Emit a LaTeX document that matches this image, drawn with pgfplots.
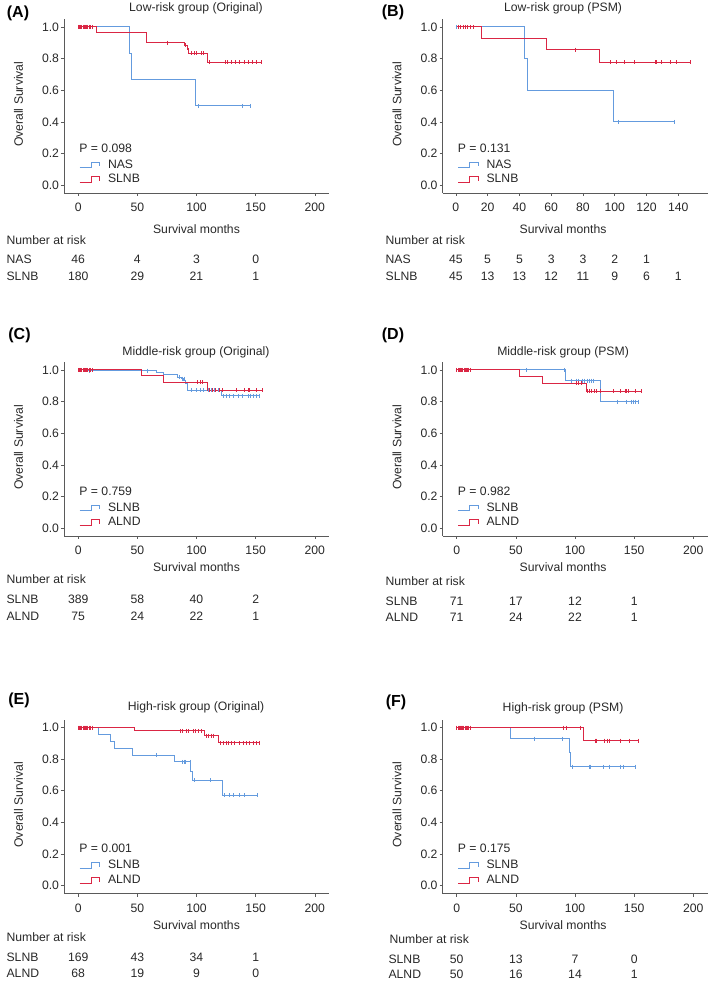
\documentclass[border=0pt]{standalone}
\usepackage{fontspec}
\setmainfont{Liberation Sans}
\usepackage{pgfplots}
\pgfplotsset{compat=1.18}

\definecolor{kmblue}{RGB}{100,155,222}
\definecolor{kmred}{RGB}{218,38,68}
\definecolor{txt}{RGB}{40,40,40}
\definecolor{axgray}{RGB}{90,90,90}

\newcommand{\fs}{\fontsize{12.2}{14}\selectfont}
% row label / risk number helpers (offsets in pt below the axis bottom)
\newcommand{\rl}[3]{\node[anchor=west,font=\fs,text=txt] at ([yshift=-#2pt]axis description cs:#1,0) {#3};}
\newcommand{\rn}[3]{\node[font=\fs,text=txt] at ([yshift=-#2pt]axis cs:#1,-0.05) {#3};}
\newcommand{\ptitle}[3]{\node[font=\fs,text=txt] at ([yshift=#2pt]axis description cs:#1,1) {#3};}
\newcommand{\plabel}[3]{\node[font=\fontsize{16}{18}\selectfont\bfseries] at (#1pt,#2pt) {#3};}
\newcommand{\ylab}{\node[rotate=90,font=\fs,text=txt] at (axis description cs:-0.172,0.51) {Overall Survival};}
\newcommand{\xlab}[2]{\node[font=\fs,text=txt] at ([yshift=-#2pt]axis description cs:#1,0) {Survival months};}
\newcommand{\pval}[1]{\node[anchor=west,font=\fs,text=txt] at (axis description cs:0.045,0.259) {P = #1};}
\newcommand{\keys}[2]{\addlegendimage{draw=kmblue, color=kmblue, line width=1pt}\addlegendentry{#1}
  \addlegendimage{draw=kmred, color=kmred, line width=1pt}\addlegendentry{#2}}

\pgfplotsset{
  km/.style={
    scale only axis, width=265pt, height=174pt, anchor=south west,
    ymin=-0.05, ymax=1.05,
    axis x line*=bottom, axis y line*=left,
    axis line style={axgray, line width=0.6pt, -},
    tick align=outside, major tick length=3pt,
    tick style={axgray, line width=0.6pt},
    ytick={0,0.2,0.4,0.6,0.8,1},
    yticklabel style={/pgf/number format/fixed, /pgf/number format/fixed zerofill, /pgf/number format/precision=1, xshift=1.5pt},
    xticklabel style={yshift=-3.5pt},
    /pgf/number format/assume math mode=true,
    tick label style={font=\fs, text=txt},
    clip=false,
    legend style={at={(0.056,0.125)}, anchor=west, draw=none, fill=none,
      inner sep=0pt, row sep=5.5pt, font=\fs,
      nodes={inner sep=0pt, text height=8.6pt, text depth=0pt, text=txt},
      /tikz/every odd column/.append style={column sep=8pt}},
    legend cell align=left,
    legend image code/.code={\draw[#1] (0pt,-4.2pt) -- (11.5pt,-4.2pt) -- (11.5pt,1.6pt) -- (20pt,1.6pt) -- (20pt,-2.7pt);},
  },
  kmx/.style={xmin=-12, xmax=212, xtick={0,50,100,150,200}},
  curve/.style={const plot, no marks, line width=1pt, #1, forget plot},
  cens/.style={only marks, mark=|, mark size=2pt, mark options={line width=0.6pt}, #1, forget plot},
}

\begin{document}
\begin{tikzpicture}
\useasboundingbox (0,0) rectangle (709pt,982pt);
% panel letters
\plabel{18}{969}{(A)}
\plabel{393}{970}{(B)}
\plabel{19.5}{647}{(C)}
\plabel{393}{647}{(D)}
\plabel{19}{282}{(E)}
\plabel{396}{280}{(F)}

% ---------------- (A)
\begin{axis}[km, kmx, at={(64pt,789pt)}]
\keys{NAS}{SLNB}
\addplot[curve=kmblue] coordinates {(0,1) (43.3,0.833) (44.7,0.667) (99.2,0.5) (145.8,0.5)};
\addplot[curve=kmred] coordinates {(0,1) (15.7,0.967) (57.6,0.901) (90.2,0.885) (92,0.865) (93.5,0.833) (109.3,0.778) (154.8,0.778)};
\addplot[cens=kmblue] coordinates {(1,1) (4,1) (7,1) (101.7,0.5) (138.8,0.5) (145.8,0.5)};
\addplot[cens=kmred] coordinates {(0,1) (1,1) (2,1) (3,1) (4,1) (5,1) (6,1) (7,1) (8,1) (9,1) (10,1) (11.5,1)
  (75.3,0.901) (90.7,0.885) (92.4,0.865) (95.8,0.833) (98,0.833) (100,0.833) (104.2,0.833) (105.6,0.833)
  (110.4,0.778) (124.7,0.778) (126.1,0.778) (129.5,0.778) (133.1,0.778) (136.5,0.778) (140.7,0.778)
  (144.1,0.778) (147.2,0.778) (150.6,0.778) (154.8,0.778)};
\ptitle{0.498}{11}{Low-risk group (Original)}
\ylab \xlab{0.5}{36} \pval{0.098}
\rl{-0.230}{47}{Number at risk}
\rl{-0.230}{66}{NAS} \rn{0}{66}{46} \rn{50}{66}{4} \rn{100}{66}{3} \rn{150}{66}{0}
\rl{-0.230}{83}{SLNB} \rn{0}{83}{180} \rn{50}{83}{29} \rn{100}{83}{21} \rn{150}{83}{1}
\end{axis}

% ---------------- (B)
\begin{axis}[km, at={(442.5pt,789pt)}, xmin=-8.4, xmax=158.4, xtick={0,20,40,60,80,100,120,140}]
\keys{NAS}{SLNB}
\addplot[curve=kmblue] coordinates {(0,1) (43.2,0.8) (44.9,0.6) (99,0.4) (137.7,0.4)};
\addplot[curve=kmred] coordinates {(0,1) (15.9,0.929) (57.2,0.857) (90.4,0.778) (147.8,0.778)};
\addplot[cens=kmblue] coordinates {(0,1) (102.3,0.4) (137.7,0.4)};
\addplot[cens=kmred] coordinates {(1.7,1) (3,1) (4.5,1) (6,1) (7.5,1) (9,1) (10.7,1) (75,0.857)
  (97,0.778) (101.3,0.778) (105.9,0.778) (112.4,0.778) (125.4,0.778) (126,0.778) (129.1,0.778)
  (134.8,0.778) (138.6,0.778) (147.8,0.778)};
\ptitle{0.455}{11}{Low-risk group (PSM)}
\ylab \xlab{0.455}{36} \pval{0.131}
\rl{-0.228}{47}{Number at risk}
\rl{-0.228}{66}{NAS} \rn{0}{66}{45} \rn{20}{66}{5} \rn{40}{66}{5} \rn{60}{66}{3} \rn{80}{66}{3} \rn{100}{66}{2} \rn{120}{66}{1}
\rl{-0.228}{83}{SLNB} \rn{0}{83}{45} \rn{20}{83}{13} \rn{40}{83}{13} \rn{60}{83}{12} \rn{80}{83}{11} \rn{100}{83}{9} \rn{120}{83}{6} \rn{140}{83}{1}
\end{axis}

% ---------------- (C)
\begin{axis}[km, kmx, at={(64pt,446pt)}]
\keys{SLNB}{ALND}
\addplot[curve=kmblue] coordinates {(0,1) (8.7,0.995) (66.3,0.985) (71.9,0.968) (84,0.953) (87.4,0.945) (89.3,0.932) (91,0.911) (92.4,0.872) (121,0.836) (153.4,0.836)};
\addplot[curve=kmred] coordinates {(0,1) (53.1,0.962) (72.5,0.921) (109.3,0.870) (156,0.870)};
\addplot[cens=kmblue] coordinates {(9.5,0.995) (58.4,0.995) (85.1,0.953) (87.9,0.945) (89.3,0.945)
  (95.8,0.872) (100,0.872) (102.8,0.872) (105.6,0.872) (109.8,0.872) (112.6,0.872) (115.4,0.872) (118.3,0.872)
  (122.5,0.836) (125.3,0.836) (128.1,0.836) (130.9,0.836) (135.1,0.836) (138.8,0.836) (143.5,0.836)
  (145.5,0.836) (147.8,0.836) (150.6,0.836) (153.4,0.836)};
\addplot[cens=kmred] coordinates {(0,1) (1,1) (2,1) (3,1) (4,1) (5,1) (6,1) (7,1) (8,1) (9,1) (10,1) (11.5,1)
  (100.6,0.921) (102.8,0.921) (105,0.921)
  (110.4,0.870) (113,0.870) (116,0.870) (119,0.870) (122,0.870) (133.7,0.870) (140.7,0.870)
  (143.5,0.870) (145,0.870) (150.6,0.870) (156,0.870)};
\ptitle{0.498}{10}{Middle-risk group (Original)}
\ylab \xlab{0.5}{31} \pval{0.759}
\rl{-0.230}{43}{Number at risk}
\rl{-0.230}{63}{SLNB} \rn{0}{63}{389} \rn{50}{63}{58} \rn{100}{63}{40} \rn{150}{63}{2}
\rl{-0.230}{80}{ALND} \rn{0}{80}{75} \rn{50}{80}{24} \rn{100}{80}{22} \rn{150}{80}{1}
\end{axis}

% ---------------- (D)
\begin{axis}[km, kmx, at={(442.5pt,446pt)}]
\keys{SLNB}{ALND}
\addplot[curve=kmblue] coordinates {(0,1) (91.7,0.932) (121.8,0.80) (153.6,0.80)};
\addplot[curve=kmred] coordinates {(0,1) (53.2,0.958) (72.6,0.917) (109.4,0.866) (156.4,0.866)};
\addplot[cens=kmblue] coordinates {(58.5,1) (90.9,1) (96.8,0.932) (100.7,0.932) (103,0.932) (105.8,0.932)
  (107.7,0.932) (110,0.932) (112,0.932) (114,0.932) (115.6,0.932)
  (136.1,0.80) (143.7,0.80) (147.4,0.80) (149.4,0.80) (150.8,0.80) (153.6,0.80)};
\addplot[cens=kmred] coordinates {(0,1) (1,1) (2,1) (3,1) (4,1) (5,1) (6,1) (7,1) (8,1) (9,1) (10,1) (11.5,1)
  (100.7,0.917) (103,0.917) (105.2,0.917)
  (110,0.866) (112,0.866) (114,0.866) (116,0.866) (118,0.866) (121.8,0.866) (132.5,0.866) (138.1,0.866)
  (142.3,0.866) (143.7,0.866) (145.1,0.866) (150.8,0.866) (156.4,0.866)};
\ptitle{0.455}{10}{Middle-risk group (PSM)}
\ylab \xlab{0.455}{31} \pval{0.982}
\rl{-0.228}{45}{Number at risk}
\rl{-0.228}{65}{SLNB} \rn{0}{65}{71} \rn{50}{65}{17} \rn{100}{65}{12} \rn{150}{65}{1}
\rl{-0.228}{81}{ALND} \rn{0}{81}{71} \rn{50}{81}{24} \rn{100}{81}{22} \rn{150}{81}{1}
\end{axis}

% ---------------- (E)
\begin{axis}[km, kmx, at={(64pt,88.4pt)}]
\keys{SLNB}{ALND}
\addplot[curve=kmblue] coordinates {(0,1) (17.4,0.957) (27.5,0.913) (30.6,0.870) (45.8,0.826) (81.7,0.782) (95.2,0.725) (96.6,0.665) (121.6,0.572) (151,0.572)};
\addplot[curve=kmred] coordinates {(0,1) (47.2,0.978) (106.5,0.949) (118.3,0.903) (153,0.903)};
\addplot[cens=kmblue] coordinates {(65.7,0.826) (88.2,0.782) (89.3,0.782) (90.2,0.782) (94.4,0.782)
  (98,0.665) (112,0.665) (123.9,0.572) (127.5,0.572) (130.9,0.572) (136.5,0.572) (140.7,0.572) (151,0.572)};
\addplot[cens=kmred] coordinates {(0,1) (1,1) (2,1) (3,1) (4,1) (5,1) (6,1) (7,1) (8,1) (9,1) (10,1) (11.5,1)
  (86.5,0.978) (88.2,0.978) (91,0.978) (93,0.978) (97.2,0.978) (98.6,0.978) (101.4,0.978) (104.2,0.978)
  (108.4,0.949) (109.8,0.949) (112.6,0.949) (114.6,0.949)
  (119.7,0.903) (122.5,0.903) (125.3,0.903) (126.7,0.903) (129.5,0.903) (132.3,0.903) (136.5,0.903)
  (139.3,0.903) (142.1,0.903) (144.9,0.903) (147.8,0.903) (150.6,0.903) (153.4,0.903)};
\ptitle{0.498}{12.6}{High-risk group (Original)}
\ylab \xlab{0.5}{32} \pval{0.001}
\rl{-0.230}{43.5}{Number at risk}
\rl{-0.230}{63.5}{SLNB} \rn{0}{63.5}{169} \rn{50}{63.5}{43} \rn{100}{63.5}{34} \rn{150}{63.5}{1}
\rl{-0.230}{79.5}{ALND} \rn{0}{79.5}{68} \rn{50}{79.5}{19} \rn{100}{79.5}{9} \rn{150}{79.5}{0}
\end{axis}

% ---------------- (F)
\begin{axis}[km, kmx, at={(442.5pt,88.4pt)}]
\keys{SLNB}{ALND}
\addplot[curve=kmblue] coordinates {(0,1) (45.2,0.93) (95.2,0.845) (96.6,0.752) (151,0.752)};
\addplot[curve=kmred] coordinates {(0,1) (107,0.917) (153.4,0.917)};
\addplot[cens=kmblue] coordinates {(65.7,0.93) (89.3,0.93) (97.8,0.752) (112,0.752) (113.2,0.752)
  (123.9,0.752) (128.7,0.752) (138.1,0.752) (140.7,0.752) (151,0.752)};
\addplot[cens=kmred] coordinates {(0,1) (1,1) (2,1) (3,1) (4,1) (5,1) (6,1) (7,1) (8,1) (9,1) (10,1) (11.5,1)
  (90.2,1) (93,1) (104.2,1)
  (116.9,0.917) (118.3,0.917) (124.5,0.917) (127.3,0.917) (128.7,0.917) (138.1,0.917) (145.5,0.917) (153.4,0.917)};
\ptitle{0.455}{11.6}{High-risk group (PSM)}
\ylab \xlab{0.455}{32} \pval{0.175}
\rl{-0.213}{46}{Number at risk}
\rl{-0.217}{66}{SLNB} \rn{0}{66}{50} \rn{50}{66}{13} \rn{100}{66}{7} \rn{150}{66}{0}
\rl{-0.217}{81}{ALND} \rn{0}{81}{50} \rn{50}{81}{16} \rn{100}{81}{14} \rn{150}{81}{1}
\end{axis}
\end{tikzpicture}
\end{document}
